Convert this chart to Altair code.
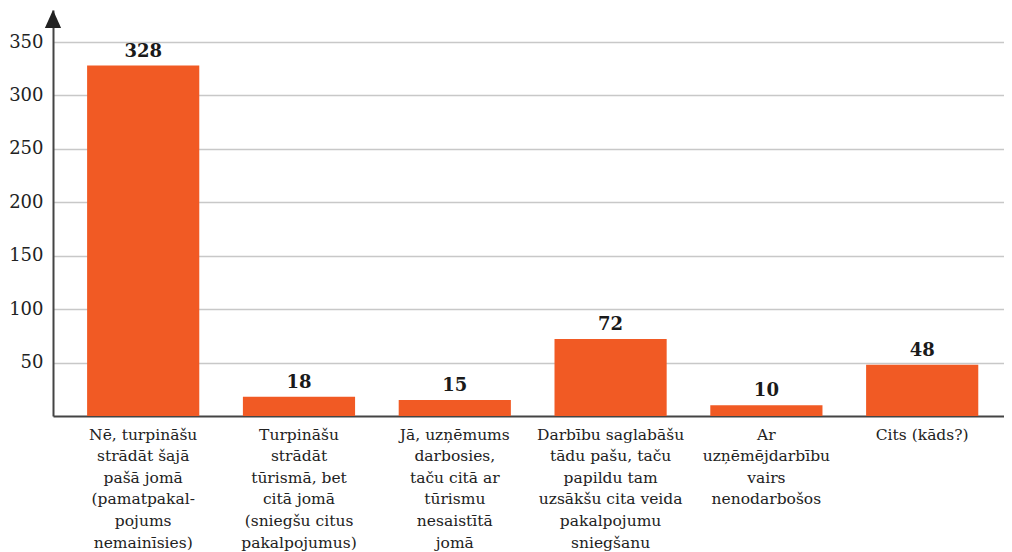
import altair as alt
import pandas as pd

categories = [
    "Nē, turpināšu|strādāt šajā|pašā jomā|(pamatpakal-|pojums|nemainīsies)",
    "Turpināšu|strādāt|tūrismā, bet|citā jomā|(sniegšu citus|pakalpojumus)",
    "Jā, uzņēmums|darbosies,|taču citā ar|tūrismu|nesaistītā|jomā",
    "Darbību saglabāšu|tādu pašu, taču|papildu tam|uzsākšu cita veida|pakalpojumu|sniegšanu",
    "Ar|uzņēmējdarbību|vairs|nenodarbošos",
    "Cits (kāds?)",
]
values = [328, 18, 15, 72, 10, 48]
y_ticks = [50, 100, 150, 200, 250, 300, 350]

df = pd.DataFrame({"cat": categories, "val": values})

FONT = "DejaVu Serif"
ORANGE = "#F15A24"

x_enc = alt.X(
    "cat:N",
    sort=categories,
    scale=alt.Scale(paddingInner=0.28, paddingOuter=0.192, align=0.57),
    axis=alt.Axis(
        title=None,
        labelAngle=0,
        labelExpr="split(datum.label, '|')",
        labelFont=FONT,
        labelFontSize=15.5,
        labelLineHeight=21.6,
        labelColor="#222222",
        labelPadding=11,
        labelBaseline="top",
        labelLimit=300,
        ticks=False,
        domainColor="#444444",
        domainWidth=2,
        grid=False,
    ),
)
y_enc = alt.Y(
    "val:Q",
    scale=alt.Scale(domain=[0, 380], nice=False),
    axis=alt.Axis(
        title=None,
        values=y_ticks,
        labelFont=FONT,
        labelFontSize=18,
        labelColor="#222222",
        labelPadding=10,
        tickSize=0,
        domainColor="#444444",
        domainWidth=2,
        gridColor="#c8c8c8",
        gridWidth=1.5,
    ),
)

base = alt.Chart(df)
bars = base.mark_bar(color=ORANGE).encode(x=x_enc, y=y_enc)
labels = base.mark_text(
    dy=-5, baseline="bottom", font=FONT, fontWeight="bold", fontSize=18, color="#1a1a1a"
).encode(x=alt.X("cat:N", sort=categories), y=alt.Y("val:Q"), text="val:Q")

arrow = alt.Chart(pd.DataFrame({"a": [0]})).mark_point(
    shape="M0,-1L0.9,1L-0.9,1Z", filled=True, color="#222222", size=324, opacity=1
).encode(x=alt.value(0), y=alt.value(9))

chart = (
    alt.layer(bars, labels, arrow)
    .properties(
        width=951,
        height=406,
        padding={"left": 45, "top": 2, "right": 0, "bottom": 135},
        autosize="none",
    )
    .configure_view(stroke=None)
)

chart.save("out.html", embed_options={"renderer": "svg", "actions": False})
